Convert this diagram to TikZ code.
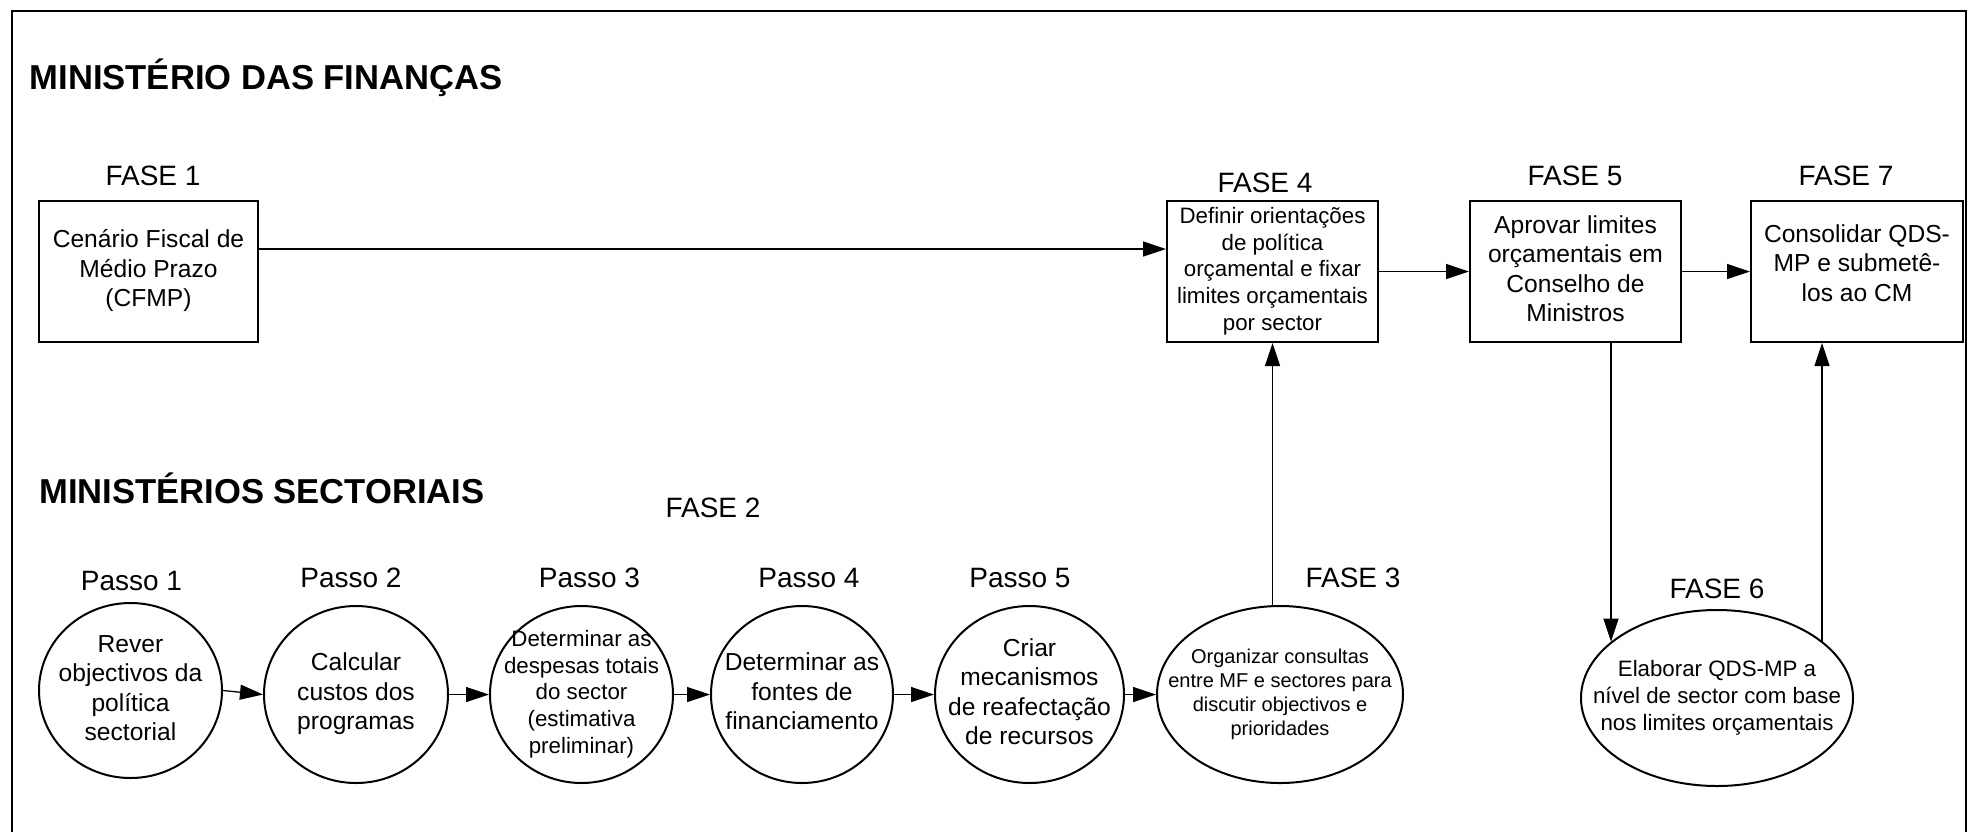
\documentclass[tikz,border=0pt]{standalone}
\usepackage{fontspec}
\setmainfont{Liberation Sans}
\usetikzlibrary{shapes.geometric,arrows.meta}
\tikzset{
  lab/.style={font=\fontsize{28}{33}\selectfont, anchor=base, inner sep=0pt},
  ttl/.style={font=\bfseries\fontsize{34.6}{40}\selectfont, anchor=base west, inner sep=0pt},
  boxA/.style={draw, line width=2pt, minimum width=211pt, minimum height=141pt, inner sep=0pt, align=center},
  ell/.style={draw, ellipse, line width=2pt, inner sep=0pt},
  tA/.style={font=\fontsize{24.6}{29.5}\selectfont, align=center, inner sep=0pt},
  tB/.style={font=\fontsize{22.3}{26.7}\selectfont, align=center, inner sep=0pt},
  tC/.style={font=\fontsize{20}{24}\selectfont, align=center, inner sep=0pt},
  arr/.style={line width=1.3pt, -{Triangle[length=23pt,width=15pt]}},
  frame/.style={line width=2pt},
}
\begin{document}
\begin{tikzpicture}[x=1pt,y=-1pt]
\useasboundingbox (0,0) rectangle (1968,831);
% outer frame
\draw[frame] (12,840) -- (12,11) -- (1966,11) -- (1966,840);

% titles
\node[ttl] (t1) at (29.5,89) {MINISTÉRIO DAS FINANÇAS};
\node[ttl] (t2) at (39,503) {MINISTÉRIOS SECTORIAIS};

% phase labels
\node[lab] (l1) at (153,185) {FASE 1};
\node[lab] (l4) at (1265,192) {FASE 4};
\node[lab] (l5) at (1575,185) {FASE 5};
\node[lab] (l7) at (1846,185) {FASE 7};
\node[lab] (l2) at (713,517) {FASE 2};
\node[lab] (p1) at (131.5,590) {Passo 1};
\node[lab] (p2) at (351,587) {Passo 2};
\node[lab] (p3) at (589.5,587) {Passo 3};
\node[lab] (p4) at (809,587) {Passo 4};
\node[lab] (p5) at (1020,587) {Passo 5};
\node[lab] (l3) at (1353,587) {FASE 3};
\node[lab] (l6) at (1717,598) {FASE 6};

% boxes
\node[boxA, tA, minimum width=219pt] (b1) at (148.5,271.5)
  {\strut Cenário Fiscal de\\Médio Prazo\\(CFMP)\strut};
\node[boxA, tB] (f4) at (1272.5,271.5)
  {\strut Definir orientações\\de política\\orçamental e fixar\\limites orçamentais\\por sector\strut};
\node[boxA, tA] (f5) at (1575.5,271.5)
  {\strut Aprovar limites\\orçamentais em\\Conselho de\\Ministros\strut};
\node[boxA, tA, minimum width=212pt] (f7) at (1857,271.5)
  {\strut Consolidar QDS-\\MP e submetê-\\los ao CM\strut\rule[-20pt]{0pt}{0pt}};

% ellipses
\node[ell, minimum width=183pt, minimum height=175pt] (e1) at (130.5,690.5) {};
\node[ell, minimum width=184pt, minimum height=177pt] (e2) at (356,694.5) {};
\node[ell, minimum width=183pt, minimum height=177pt] (e3) at (581.5,694.5) {};
\node[ell, minimum width=182pt, minimum height=177pt] (e4) at (802,694.5) {};
\node[ell, minimum width=189pt, minimum height=177pt] (e5) at (1029.5,694.5) {};
\node[ell, minimum width=246pt, minimum height=177pt] (f3) at (1280,694.5) {};
\node[ell, minimum width=272pt, minimum height=176pt] (f6) at (1717,698) {};

\node[tA] (e1t) at (e1) {\strut Rever\\objectivos da\\política\\sectorial\strut};
\node[tA] (e2t) at (e2) {\strut Calcular\\custos dos\\programas\strut};
\node[tB] (e3t) at (e3) {\strut Determinar as\\despesas totais\\do sector\\(estimativa\\preliminar)\strut};
\node[tA] (e4t) at (e4) {\strut Determinar as\\fontes de\\financiamento\strut};
\node[tA] (e5t) at (e5) {\strut Criar\\mecanismos\\de reafectação\\de recursos\strut};
\node[tC] (f3t) at (f3) {\strut Organizar consultas\\entre MF e sectores para\\discutir objectivos e\\prioridades\strut};
\node[tB] (f6t) at (f6) {\strut Elaborar QDS-MP a\\nível de sector com base\\nos limites orçamentais\strut};

% connectors
\draw[arr] ([yshift=22.5pt]b1.east) -- ([yshift=22.5pt]b1.east -| f4.west);
\draw[arr] (f4.east) -- (f5.west);
\draw[arr] (f5.east) -- (f7.west);
\draw[arr] (f3.north -| f4.south) -- (f4.south);
\coordinate (f5o) at ([xshift=35.5pt]f5.south);
\draw[arr] (f5o) -- (f5o |- f6.152.5);
\coordinate (f7i) at ([xshift=-35pt]f7.south);
\draw[arr] (f7i |- f6.28) -- (f7i);
\draw[arr] (e1.east) -- (e2.west);
\draw[arr] (e2.east) -- (e3.west);
\draw[arr] (e3.east) -- (e4.west);
\draw[arr] (e4.east) -- (e5.west);
\draw[arr] (e5.east) -- (f3.west);
\end{tikzpicture}
\end{document}
